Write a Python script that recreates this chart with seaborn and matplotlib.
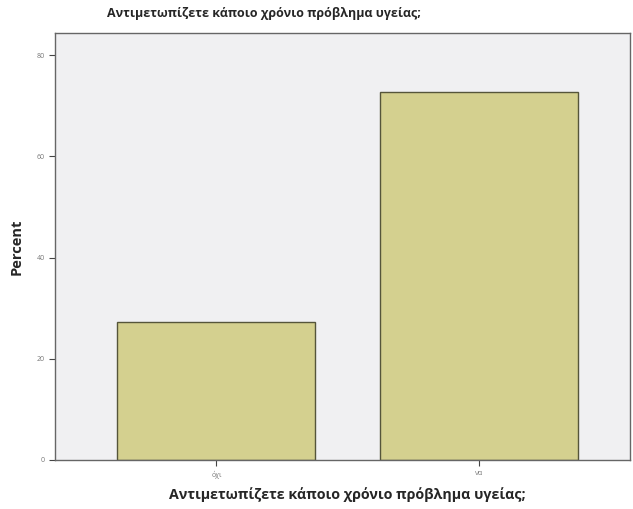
import matplotlib
matplotlib.use("Agg")
import matplotlib.pyplot as plt
import seaborn as sns
import pandas as pd

categories = ["όχι", "να"]
percents = [27.3, 72.7]
yticks = [0, 20, 40, 60, 80]
title = "Αντιμετωπίζετε κάποιο χρόνιο πρόβλημα υγείας;"

df = pd.DataFrame({"cat": categories, "pct": percents})

sns.set_style("white")
plt.rcParams['font.family'] = ['Open Sans', 'DejaVu Sans']

fig = plt.figure(figsize=(6.33, 5.09), dpi=100)
ax = fig.add_axes([55/633, 1-460/509, 575/633, 427/509])
ax.set_facecolor("#f0f0f2")

sns.barplot(data=df, x="cat", y="pct", ax=ax, color="#d4d08f",
            saturation=1, width=0.755, edgecolor="#55553a", linewidth=1.0)

ax.set_xlim(-0.615, 1.576)
ax.set_ylim(0, 84.4)
ax.set_yticks(yticks)
ax.set_yticklabels([str(t) for t in yticks], fontsize=5)
ax.tick_params(axis="x", bottom=True, labelsize=5, length=4, width=0.8, colors="#444444")
ax.tick_params(axis="y", left=True, length=4, width=0.8, colors="#444444")
for lab in ax.get_xticklabels() + ax.get_yticklabels():
    lab.set_color("#777777")
for s in ax.spines.values():
    s.set_color("#666666")
    s.set_linewidth(1.0)

ax.set_xlabel(title, fontsize=10.3, fontweight="bold")
ax.xaxis.set_label_coords((347 - 55) / 575, -(495 - 460) / 427)
ax.xaxis.label.set_va("center")
ax.set_ylabel("Percent", fontsize=10.5, fontweight="bold")
ax.yaxis.set_label_coords((17 - 55) / 575, 0.5)
ax.yaxis.label.set_va("center")
fig.text(264/633, 1-14/509, title, ha="center", va="center", fontsize=9, fontweight="bold")

fig.savefig("out.png", dpi=100)
